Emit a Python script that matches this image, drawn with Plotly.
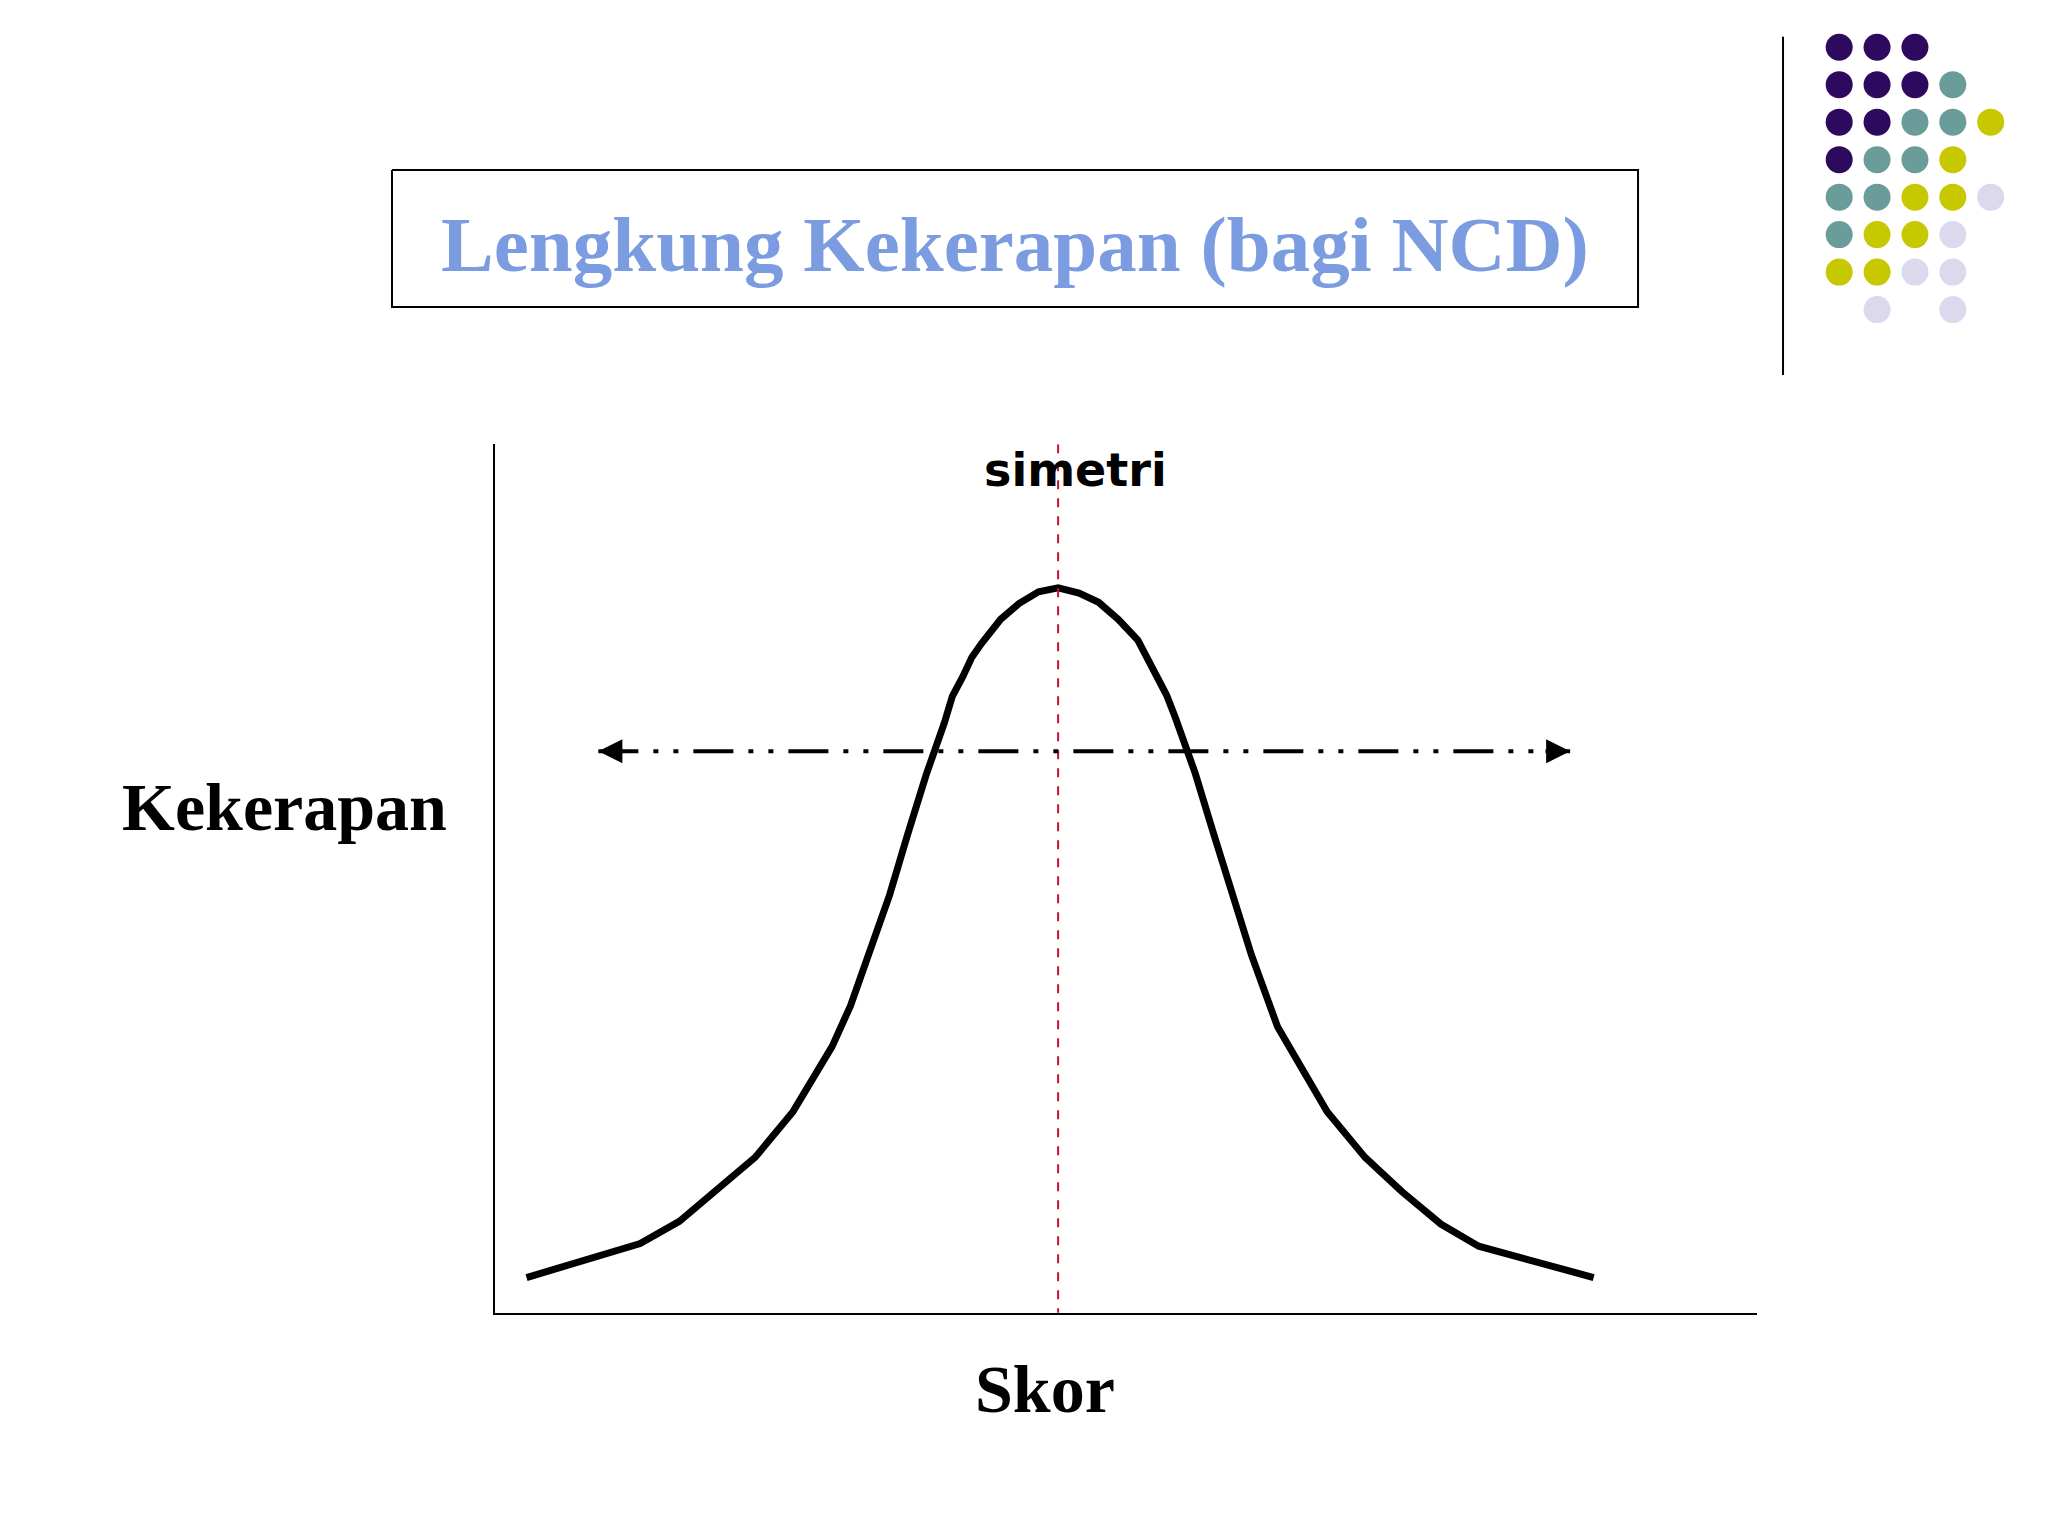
import plotly.graph_objects as go

# curve (score units, density units)
score = [24, 111, 141, 169, 199, 228, 243, 258, 272, 287, 302, 316, 330, 344, 350, 358, 365, 372,
         387, 401, 416, 431, 447, 462, 477, 492, 506, 514, 521, 529, 536, 550, 564, 579, 599, 622,
         637, 666, 694, 724, 753, 841]
density = [27, 53, 70, 93, 119, 154, 178, 204, 235, 277, 320, 367, 412, 452, 472, 487, 502, 512,
           531, 543, 552, 555, 551, 544, 531, 515, 490, 473, 455, 433, 413, 367, 322, 274, 219, 179,
           154, 119, 93, 68, 51, 27]
mean_score = 431
arrow_level = 430
arrow_span = [79, 823]

# decorative dot grid (column, row, colour)
dot_colors = {"P": "#2E0A5E", "T": "#6A9C9A", "Y": "#C8C800", "L": "#DCD8EE"}
dot_rows = ["PPP..", "PPPT.", "PPTTY", "PTTY.", "TTYYL", "TYYL.", "YYLL.", ".L.L."]

W, H = 1568, 1176  # reference-frame units
OFF = 6
fig = go.Figure()

fig.add_trace(go.Scatter(x=score, y=density, mode="lines",
                         line=dict(color="black", width=7), showlegend=False))

# symmetry line
fig.add_trace(go.Scatter(x=[mean_score, mean_score], y=[665, -85], mode="lines",
                         line=dict(color="#C8102E", width=2, dash="dash"), showlegend=False,
                         cliponaxis=False))
# dash-dot arrow
fig.add_trace(go.Scatter(x=arrow_span, y=[arrow_level, arrow_level], mode="lines",
                         line=dict(color="black", width=4, dash="40px,15px,5px,15px,5px,15px"),
                         showlegend=False))
for x0, x1 in [(arrow_span[0] + 20, arrow_span[0]), (arrow_span[1] - 20, arrow_span[1])]:
    fig.add_annotation(x=x1, y=arrow_level, ax=x0, ay=arrow_level, axref="x", ayref="y",
                       showarrow=True, arrowhead=2, arrowsize=1.2, arrowwidth=4, arrowcolor="black",
                       text="")

# dots on an overlay axis spanning the whole page
dx, dy, dc = [], [], []
for r, row in enumerate(dot_rows):
    for c, ch in enumerate(row):
        if ch != ".":
            dx.append(1408 + 29 * c)
            dy.append(36 + 28.7 * r)
            dc.append(dot_colors[ch])
fig.add_trace(go.Scatter(x=dx, y=dy, mode="markers", xaxis="x2", yaxis="y2",
                         marker=dict(size=27, color=dc), showlegend=False))
fig.add_trace(go.Scatter(x=[1365, 1365], y=[28, 287], mode="lines", xaxis="x2", yaxis="y2",
                         line=dict(color="black", width=2), showlegend=False))
fig.add_trace(go.Scatter(x=[300, 1254, 1254, 300, 300], y=[130, 130, 235, 235, 130], mode="lines",
                         xaxis="x2", yaxis="y2", line=dict(color="black", width=2), showlegend=False))

fig.update_layout(
    width=2048, height=1536, autosize=False, margin=dict(l=0, r=0, t=0, b=0),
    paper_bgcolor="white", plot_bgcolor="rgba(0,0,0,0)",
    xaxis=dict(domain=[(379 - OFF) / W, (1345 - OFF) / W], range=[0, 966], showgrid=False,
               zeroline=False, showticklabels=False, ticks="", showline=True, linecolor="black",
               linewidth=2),
    yaxis=dict(domain=[1 - (1005 - OFF) / H, 1 - (340 - OFF) / H], range=[0, 665], showgrid=False,
               zeroline=False, showticklabels=False, ticks="", showline=True, linecolor="black",
               linewidth=2),
    xaxis2=dict(domain=[0, 1], range=[OFF, W + OFF], visible=False, anchor="y2"),
    yaxis2=dict(domain=[0, 1], range=[H + OFF, OFF], visible=False, anchor="x2"),
)
labels = [
    (777, 187, "<b>Lengkung Kekerapan (bagi NCD)</b>", "Liberation Serif", 79, "#7B9CE0"),
    (218, 618, "<b>Kekerapan</b>", "Liberation Serif", 68, "black"),
    (800, 1063, "<b>Skor</b>", "Liberation Serif", 68, "black"),
    (823, 360, "<b>simetri</b>", "DejaVu Sans", 46, "black"),
]
for x, y, t, fam, sz, col in labels:
    fig.add_annotation(xref="x2", yref="y2", x=x, y=y, showarrow=False, text=t,
                       xanchor="center", yanchor="middle",
                       font=dict(family=fam, size=sz, color=col))

fig.write_html("out.html")
